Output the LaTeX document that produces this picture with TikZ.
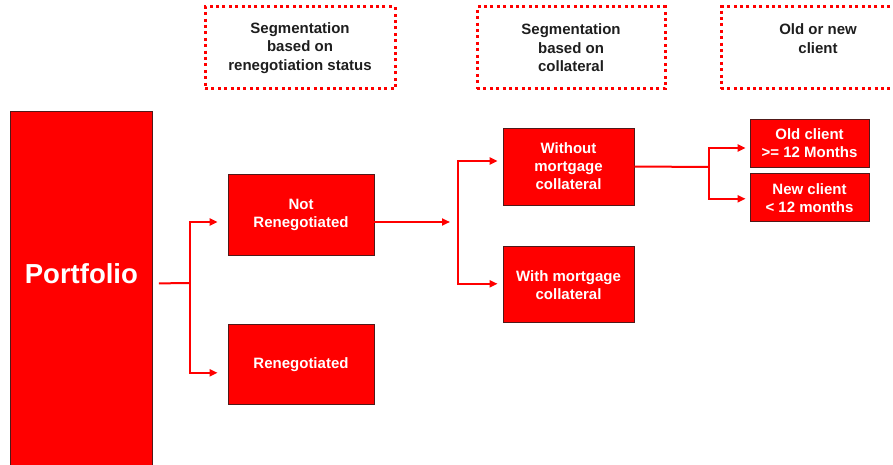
\documentclass[tikz,border=0pt]{standalone}
\usepackage{fontspec}
\setmainfont{Liberation Sans}
\usetikzlibrary{arrows.meta,positioning}

\definecolor{segred}{RGB}{255,0,0}
\definecolor{segedge}{RGB}{80,25,25}
\definecolor{headtext}{RGB}{30,30,30}

\begin{document}
\begin{tikzpicture}[x=1pt, y=-1pt, >={Triangle[length=8pt,width=7pt]}, node distance=6pt]
		\tikzstyle{segbox} = [draw=segedge, line width=0.8pt, fill=segred, text=white, align=center, inner sep=0pt, font=\bfseries\fontsize{15}{18}\selectfont]
		\tikzstyle{header} = [draw=segred, line width=3pt, dash pattern=on 3pt off 3.4pt, minimum height=82pt, align=center, inner sep=0pt, text=headtext, font=\bfseries\fontsize{15}{18.5}\selectfont]
		\tikzstyle{flow} = [draw=segred, line width=2pt]

		\useasboundingbox (0,0) rectangle (893,465);

		% boxes
		\path
		node[segbox, anchor=north west, minimum width=142pt, text height=172pt, text depth=185pt, font=\bfseries\fontsize{27.5}{32}\selectfont] (portfolio) at (10,111) {Portfolio}
		node[segbox, minimum width=146pt, minimum height=81pt] (notreneg) at (301,214.5) {Not\\Renegotiated}
		node[segbox, minimum width=146pt, minimum height=80pt, below=69pt of notreneg] (reneg) {Renegotiated}
		node[segbox, minimum width=131pt, minimum height=77pt] (without) at (568.5,166.5) {Without\\mortgage\\collateral}
		node[segbox, minimum width=131pt, minimum height=76pt, below=41pt of without] (withm) {With mortgage\\collateral}
		node[segbox, minimum width=119pt, minimum height=48pt] (oldc) at (809.5,143) {Old client\\>= 12 Months}
		node[segbox, minimum width=119pt, minimum height=48pt, below=of oldc] (newc) {New client\\< 12 months}
		;

		% headers
		\path
		node[header, minimum width=190pt] (seg1) at (300,48) {Segmentation\\based on\\renegotiation status}
		node[header, minimum width=188pt, right=79pt of seg1] (seg2) {Segmentation\\based on\\collateral}
		node[header, minimum width=194pt, right=53pt of seg2] (seg3) {Old or new\\client\\~}
		;

		% connectors
		\coordinate (fork1) at (190,283);
		\coordinate (fork2) at (458,222);
		\coordinate (fork3) at (709,167);

		\draw[flow] ([xshift=6pt]portfolio.base east) -- (fork1);
		\draw[flow, ->] (fork1) |- ([xshift=-10pt, yshift=-7.5pt]notreneg.west);
		\draw[flow, ->] (fork1) |- ([xshift=-10pt, yshift=-8pt]reneg.west);

		\draw[flow, ->, shorten >=8pt] ([yshift=-7.5pt]notreneg.east) -- (fork2);
		\draw[flow, ->] (fork2) |- ([xshift=-5pt, yshift=5.5pt]without.west);
		\draw[flow, ->] (fork2) |- ([xshift=-5pt, yshift=1pt]withm.west);

		\draw[flow] (without.east) -- (fork3);
		\draw[flow, ->] (fork3) |- ([xshift=-4pt, yshift=-5pt]oldc.west);
		\draw[flow, ->] (fork3) |- ([xshift=-4pt, yshift=-1pt]newc.west);
\end{tikzpicture}
\end{document}
